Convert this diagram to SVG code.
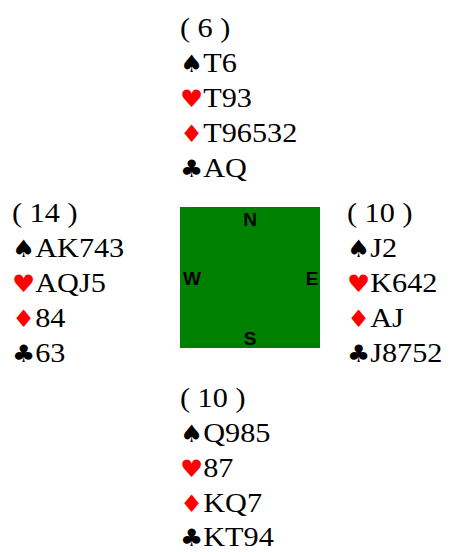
<svg xmlns="http://www.w3.org/2000/svg" width="450" height="552" viewBox="0 0 450 552">
<style>
.h{font-family:"Liberation Serif","Times New Roman",serif;font-size:28px;fill:#000}
.s{font-family:"DejaVu Sans",sans-serif;font-size:24px}
.r{fill:#ff0000}
.d{font-family:"Liberation Sans",Arial,sans-serif;font-size:19px;font-weight:bold;fill:#000}
</style>
<rect width="450" height="552" fill="#fff"/>
<g id="table">
<rect x="180" y="207" width="140" height="141" fill="#008000"/>
<text class="d" x="250" y="225.5" text-anchor="middle">N</text>
<text class="d" x="183" y="285" text-anchor="start">W</text>
<text class="d" x="318.5" y="285" text-anchor="end">E</text>
<text class="d" x="250" y="344.5" text-anchor="middle">S</text>
</g>
<g id="north" transform="translate(180,0) scale(1.08,1)">
<text class="h" x="0" y="37">( 6 )</text>
<text class="h" x="0" y="72"><tspan class="s">♠</tspan>T6</text>
<text class="h" x="0" y="107"><tspan class="s r">♥</tspan>T93</text>
<text class="h" x="0" y="142"><tspan class="s r">♦</tspan>T96532</text>
<text class="h" x="0" y="177"><tspan class="s">♣</tspan>AQ</text>
</g>
<g id="west" transform="translate(12,0) scale(1.08,1)">
<text class="h" x="0" y="222">( 14 )</text>
<text class="h" x="0" y="257"><tspan class="s">♠</tspan>AK743</text>
<text class="h" x="0" y="292"><tspan class="s r">♥</tspan>AQJ5</text>
<text class="h" x="0" y="327"><tspan class="s r">♦</tspan>84</text>
<text class="h" x="0" y="362"><tspan class="s">♣</tspan>63</text>
</g>
<g id="east" transform="translate(347,0) scale(1.08,1)">
<text class="h" x="0" y="222">( 10 )</text>
<text class="h" x="0" y="257"><tspan class="s">♠</tspan>J2</text>
<text class="h" x="0" y="292"><tspan class="s r">♥</tspan>K642</text>
<text class="h" x="0" y="327"><tspan class="s r">♦</tspan>AJ</text>
<text class="h" x="0" y="362"><tspan class="s">♣</tspan>J8752</text>
</g>
<g id="south" transform="translate(180,0) scale(1.08,1)">
<text class="h" x="0" y="407">( 10 )</text>
<text class="h" x="0" y="442"><tspan class="s">♠</tspan>Q985</text>
<text class="h" x="0" y="477"><tspan class="s r">♥</tspan>87</text>
<text class="h" x="0" y="512"><tspan class="s r">♦</tspan>KQ7</text>
<text class="h" x="0" y="546"><tspan class="s">♣</tspan>KT94</text>
</g>
<g id="connectors"></g>
</svg>
